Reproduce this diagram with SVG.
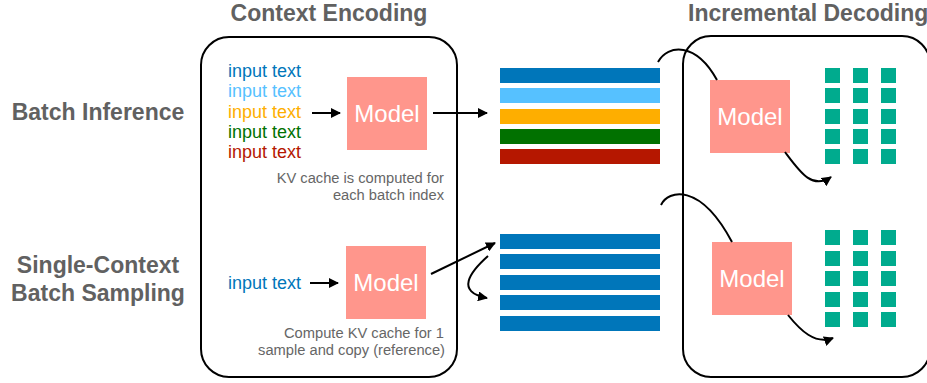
<svg xmlns="http://www.w3.org/2000/svg" width="927" height="383" viewBox="0 0 927 383">
<defs>
<marker id="ah" viewBox="0 0 10 10" refX="9" refY="5" markerWidth="5" markerHeight="5" orient="auto" markerUnits="strokeWidth">
<path d="M0,0 L10,5 L0,10 Z" fill="#000"/>
</marker>
<style>
.title{font-family:"Liberation Sans",Arial,sans-serif;font-weight:bold;font-size:23px;fill:#616161}
.in{font-family:"Liberation Sans",Arial,sans-serif;font-size:18px}
.model rect{fill:#FF968C}
.model text{font-family:"Liberation Sans",Arial,sans-serif;font-size:24px;fill:#fff;text-anchor:middle}
.cap{font-family:"Liberation Sans",Arial,sans-serif;font-size:14.7px;fill:#666;text-anchor:end}
.box{fill:none;stroke:#000;stroke-width:2}
.con path{fill:none;stroke:#000;stroke-width:2}
.g rect{fill:#00AB8E}
</style>
</defs>
<rect width="927" height="383" fill="#fff"/>

<g id="titles">
<text class="title" x="329" y="20.5" text-anchor="middle">Context Encoding</text>
<text class="title" x="688" y="20.5">Incremental Decoding</text>
<text class="title" x="98" y="120" text-anchor="middle">Batch Inference</text>
<text class="title" x="98" y="273" text-anchor="middle">Single-Context</text>
<text class="title" x="98" y="301" text-anchor="middle">Batch Sampling</text>
</g>

<g id="context-box"><rect class="box" x="201" y="37" width="256" height="340" rx="28"/></g>
<g id="decoding-box"><rect class="box" x="683" y="36" width="247" height="341" rx="28"/></g>

<g id="inputs-batch">
<text class="in" x="228" y="77" fill="#0076BA">input text</text>
<text class="in" x="228" y="97" fill="#56C1FF">input text</text>
<text class="in" x="228" y="118" fill="#FEAE00">input text</text>
<text class="in" x="228" y="138" fill="#017100">input text</text>
<text class="in" x="228" y="158" fill="#B51700">input text</text>
</g>
<g id="input-single"><text class="in" x="228" y="289" fill="#0076BA">input text</text></g>

<g id="model-1" class="model"><rect x="347" y="77" width="80" height="73"/><text x="387" y="122">Model</text></g>
<g id="model-2" class="model"><rect x="346" y="246" width="80" height="73"/><text x="386" y="291">Model</text></g>
<g id="model-3" class="model"><rect x="710" y="80" width="80" height="73"/><text x="750" y="125">Model</text></g>
<g id="model-4" class="model"><rect x="712" y="242" width="80" height="73"/><text x="752" y="287">Model</text></g>

<g id="caption-1">
<text class="cap" x="444" y="183">KV cache is computed for</text>
<text class="cap" x="444" y="200">each batch index</text>
</g>
<g id="caption-2">
<text class="cap" x="444" y="338">Compute KV cache for 1</text>
<text class="cap" x="445" y="355">sample and copy (reference)</text>
</g>

<g id="kv-batch">
<rect x="500" y="68" width="160" height="15" fill="#0076BA"/>
<rect x="500" y="88" width="160" height="15" fill="#56C1FF"/>
<rect x="500" y="109" width="160" height="15" fill="#FEAE00"/>
<rect x="500" y="129" width="160" height="15" fill="#017100"/>
<rect x="500" y="149" width="160" height="15" fill="#B51700"/>
</g>
<g id="kv-single" fill="#0076BA">
<rect x="500" y="234" width="160" height="15"/>
<rect x="500" y="254" width="160" height="15"/>
<rect x="500" y="275" width="160" height="15"/>
<rect x="500" y="295" width="160" height="15"/>
<rect x="500" y="316" width="160" height="15"/>
</g>

<g id="out-batch" class="g">
<rect x="825" y="68" width="15" height="15"/><rect x="853" y="68" width="15" height="15"/><rect x="881" y="68" width="15" height="15"/>
<rect x="825" y="88" width="15" height="15"/><rect x="853" y="88" width="15" height="15"/><rect x="881" y="88" width="15" height="15"/>
<rect x="825" y="109" width="15" height="15"/><rect x="853" y="109" width="15" height="15"/><rect x="881" y="109" width="15" height="15"/>
<rect x="825" y="129" width="15" height="15"/><rect x="853" y="129" width="15" height="15"/><rect x="881" y="129" width="15" height="15"/>
<rect x="825" y="149" width="15" height="15"/><rect x="853" y="149" width="15" height="15"/><rect x="881" y="149" width="15" height="15"/>
</g>
<g id="out-single" class="g">
<rect x="825" y="230" width="15" height="15"/><rect x="853" y="230" width="15" height="15"/><rect x="881" y="230" width="15" height="15"/>
<rect x="825" y="251" width="15" height="15"/><rect x="853" y="251" width="15" height="15"/><rect x="881" y="251" width="15" height="15"/>
<rect x="825" y="271" width="15" height="15"/><rect x="853" y="271" width="15" height="15"/><rect x="881" y="271" width="15" height="15"/>
<rect x="825" y="292" width="15" height="15"/><rect x="853" y="292" width="15" height="15"/><rect x="881" y="292" width="15" height="15"/>
<rect x="825" y="312" width="15" height="15"/><rect x="853" y="312" width="15" height="15"/><rect x="881" y="312" width="15" height="15"/>
</g>

<g id="connectors" class="con">
<path d="M312,113 L340,113" marker-end="url(#ah)"/>
<path d="M310,283 L338,283" marker-end="url(#ah)"/>
<path d="M433,113 L487,113" marker-end="url(#ah)"/>
<path d="M431,274 L495,243" marker-end="url(#ah)"/>
<path d="M488,256 C470,272 455,292 487,298" marker-end="url(#ah)"/>
<path d="M658,62 C668,44 696,42 717,80"/>
<path d="M785,152 C800,172 812,190 831,177" marker-end="url(#ah)"/>
<path d="M661,205 C668,190 700,182 732,242"/>
<path d="M788,315 C800,330 815,345 833,338" marker-end="url(#ah)"/>
</g>
</svg>
